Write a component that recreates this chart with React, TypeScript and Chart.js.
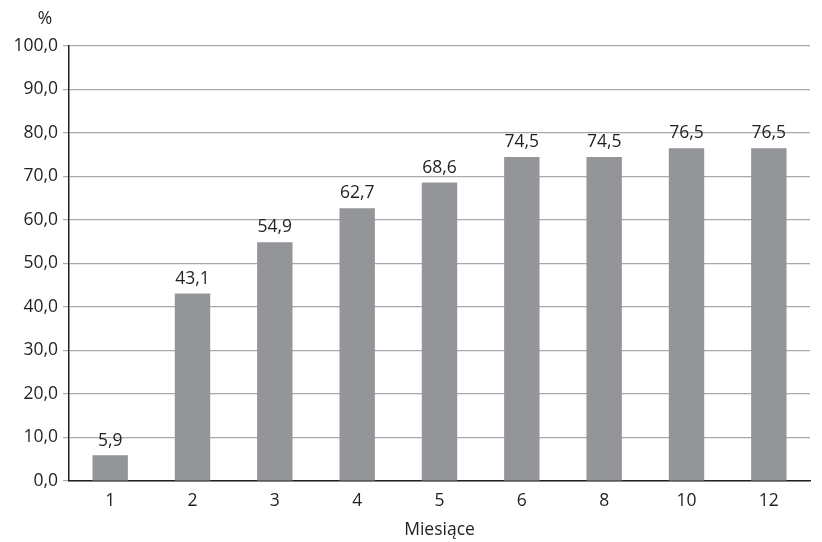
import React, { useEffect, useRef } from "react";
import { Chart, registerables } from "chart.js";

Chart.register(...registerables);

const categories = ["1", "2", "3", "4", "5", "6", "8", "10", "12"];
const values = [5.9, 43.1, 54.9, 62.7, 68.6, 74.5, 74.5, 76.5, 76.5];
const yUnit = "%";
const xTitle = "Miesiące";

const FONT = "'Open Sans', 'Noto Sans', sans-serif";
const TEXT = "#231f20";
const fmt = (v: number) => v.toFixed(1).replace(".", ",");

const labelsPlugin = {
  id: "labelsPlugin",
  afterDatasetsDraw(chart: any) {
    const ctx = chart.ctx;
    const meta = chart.getDatasetMeta(0);
    ctx.save();
    ctx.fillStyle = TEXT;
    ctx.font = `17.5px ${FONT}`;
    ctx.textAlign = "center";
    ctx.textBaseline = "bottom";
    meta.data.forEach((bar: any, i: number) => {
      ctx.fillText(fmt(values[i]), bar.x, bar.y - 6);
    });
    const area = chart.chartArea;
    ctx.textBaseline = "middle";
    ctx.fillText(yUnit, 45, 19);
    ctx.fillText(xTitle, (area.left + area.right) / 2, 530);
    ctx.restore();
  },
};

export default function App() {
  const ref = useRef<HTMLCanvasElement>(null);
  useEffect(() => {
    const chart = new Chart(ref.current!, {
      type: "bar",
      data: {
        labels: categories,
        datasets: [
          {
            data: values,
            backgroundColor: "#939598",
            barPercentage: 0.43,
            categoryPercentage: 1,
          },
        ],
      },
      options: {
        animation: false,
        responsive: false,
        devicePixelRatio: 1,
        layout: { padding: { top: 46, right: 12, left: 0, bottom: 0 } },
        plugins: { legend: { display: false }, tooltip: { enabled: false } },
        scales: {
          x: {
            grid: { display: false },
            border: { color: TEXT, width: 1.5 },
            ticks: { color: TEXT, font: { family: FONT, size: 17.5 }, padding: 2 },
            afterFit: (s: any) => {
              s.height = 61;
            },
          },
          y: {
            min: 0,
            max: 100,
            grid: { color: "#a7a9ac", lineWidth: 1.2, tickLength: 6, tickColor: "#a7a9ac" },
            border: { color: TEXT, width: 1.5 },
            ticks: {
              stepSize: 10,
              color: TEXT,
              font: { family: FONT, size: 17.5 },
              padding: 5,
              callback: (v: any) => fmt(Number(v)),
            },
            afterFit: (s: any) => {
              s.width = 69;
            },
          },
        },
      },
      plugins: [labelsPlugin],
    });
    return () => chart.destroy();
  }, []);
  return (
    <div style={{ position: "fixed", left: 0, top: 0, width: 822, height: 542, background: "#fff" }}>
      <canvas ref={ref} width={822} height={542} />
    </div>
  );
}
